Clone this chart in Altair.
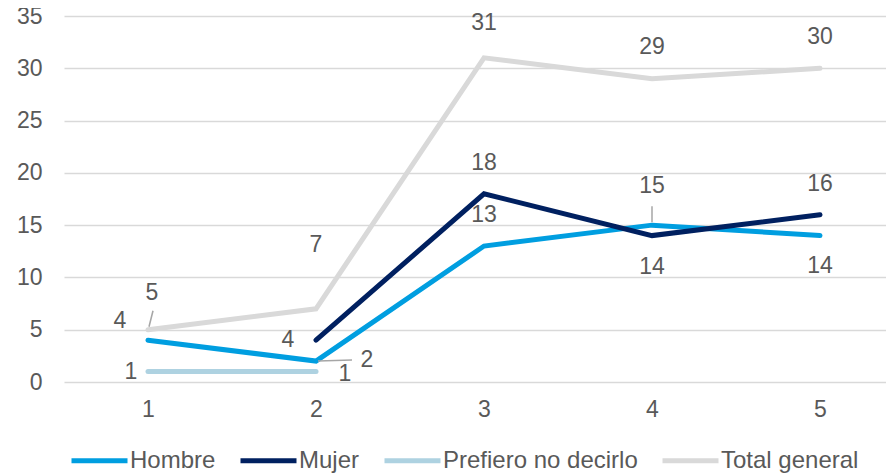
import altair as alt
import pandas as pd

# ---- data ----
categories = [1, 2, 3, 4, 5]
series_names = ["Hombre", "Mujer", "Prefiero no decirlo", "Total general"]
hombre = [4, 2, 13, 15, 14]
mujer = [None, 4, 18, 14, 16]
prefiero = [1, 1, None, None, None]
total = [5, 7, 31, 29, 30]
series_values = [hombre, mujer, prefiero, total]
colors = ["#009ee0", "#002060", "#aed2e1", "#d9d9d9"]

# data-label offsets in pixels (dx, dy) for each point of each series
label_offsets = [
    [(-28, -19), (51, -1), (0, -31), (0, -39), (0, 30)],
    [None, (-28, 0), (0, -31), (0, 31), (0, -31)],
    [(-17, 0), (29, 2), None, None, None],
    [(4, -37), (0, -64), (0, -35), (0, -32), (0, -31)],
]
# leader lines: (series, category, (x offset, y offset, x2 offset, y2 offset))
leaders = [
    ("Total general", 1, (1, -3, 5, -19)),
    ("Hombre", 2, (2, 0, 36, -1)),
    ("Hombre", 4, (0, -3, 0, -19)),
]

FONT = "Liberation Sans"
TXT = "#595959"
FS = 23
LFS = 24

rows = []
for name, vals, offs in zip(series_names, series_values, label_offsets):
    for c, v, o in zip(categories, vals, offs):
        if v is None:
            continue
        rows.append({"cat": c, "value": v, "series": name, "dx": o[0], "dy": o[1]})
df = pd.DataFrame(rows)

x_enc = alt.X(
    "cat:Q",
    title=None,
    scale=alt.Scale(domain=[0.5, 0.5 + 822 / 168], nice=False, zero=False),
    axis=alt.Axis(values=categories, format="d", grid=False, domain=False, ticks=False,
                  tickSize=0, labelPadding=16, labelFontSize=FS, labelFont=FONT,
                  labelColor=TXT),
)
y_enc = alt.Y(
    "value:Q",
    title=None,
    scale=alt.Scale(domain=[0, 35], nice=False, zero=True),
    axis=alt.Axis(values=list(range(0, 36, 5)), domain=False, ticks=False, tickSize=0,
                  labelPadding=22, labelFontSize=FS, labelFont=FONT, labelColor=TXT,
                  gridColor="#d9d9d9", gridWidth=1.5),
)

lines = alt.Chart(df).mark_line(strokeWidth=5, strokeCap="round").encode(
    x=x_enc,
    y=y_enc,
    color=alt.Color(
        "series:N",
        scale=alt.Scale(domain=series_names, range=colors),
        legend=alt.Legend(
            orient="none", legendX=5, legendY=414, direction="horizontal", title=None,
            symbolType="stroke", symbolSize=3136, symbolStrokeWidth=5,
            labelFontSize=LFS, labelFont=FONT, labelColor=TXT, labelLimit=400,
            columnPadding=14, labelOffset=0, padding=0,
        ),
    ),
    order="cat:Q",
)

layers = [lines]

for (dx, dy), sub in df.groupby(["dx", "dy"]):
    layers.append(
        alt.Chart(sub).mark_text(
            dx=int(dx), dy=int(dy), fontSize=FS, font=FONT, color=TXT,
            align="center", baseline="middle",
        ).encode(x="cat:Q", y="value:Q", text=alt.Text("value:Q", format="d"))
    )

for name, c, (xo, yo, x2o, y2o) in leaders:
    sub = df[(df["series"] == name) & (df["cat"] == c)]
    layers.append(
        alt.Chart(sub).mark_rule(
            color="#a6a6a6", strokeWidth=1.5,
            xOffset=xo, yOffset=yo, x2Offset=x2o, y2Offset=y2o,
        ).encode(x="cat:Q", y="value:Q", x2="cat:Q", y2="value:Q")
    )

chart = alt.layer(*layers).properties(
    width=822,
    height=366,
    autosize=alt.AutoSizeParams(type="none"),
    padding={"left": 56, "top": 8, "right": 0, "bottom": 93},
).configure_view(stroke=None)

chart.save("out.html", embed_options={"renderer": "svg", "actions": False})
